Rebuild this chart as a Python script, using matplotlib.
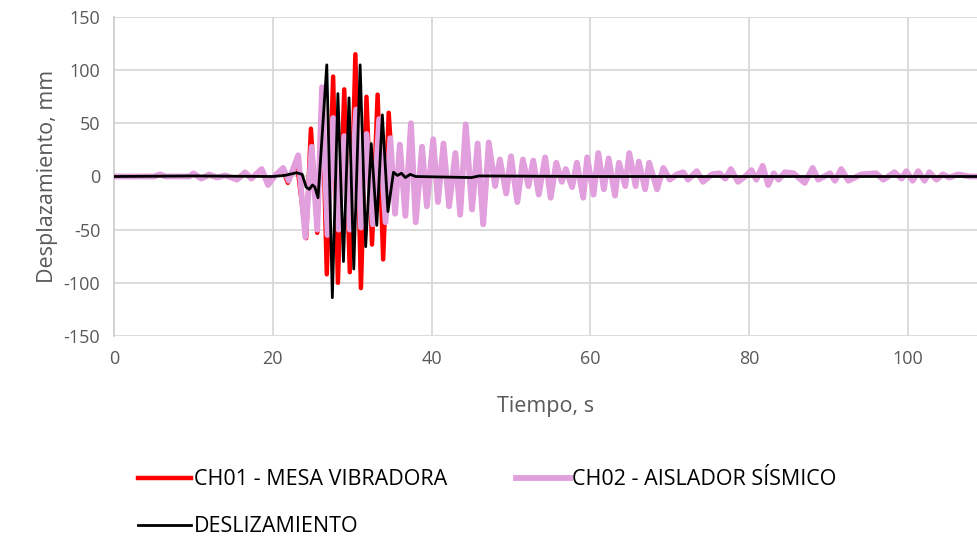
import matplotlib.pyplot as plt

# extrema (time in s, displacement in mm)
# shared tail (after ~35 s) where CH01 and CH02 overlap
tail_t = [35.4, 36.0, 36.7, 37.4, 38.0, 38.8, 39.4, 40.2, 40.8, 41.5, 42.2, 43.0, 43.6,
          44.3, 45.1, 45.8, 46.5, 47.2, 48.0, 48.6, 49.4, 50.0, 50.8, 51.5, 52.2, 52.8,
          53.5, 54.3, 55.0, 55.7, 56.4, 56.9, 57.7, 58.3, 59.1, 59.6, 60.4, 61.0, 61.7,
          62.3, 63.1, 63.6, 64.4, 64.9, 65.7, 66.1, 66.9, 67.4, 68.4, 69.2, 70.0, 70.9,
          71.7, 72.3, 73.4, 74.2, 75.3, 76.3, 77.0, 77.7, 78.6, 79.5, 80.3, 80.9, 81.7,
          82.4, 83.1, 83.7, 84.5, 85.6, 87.0, 88.0, 88.7, 90.2, 90.8, 91.6, 92.5, 94.1,
          96.0, 96.9, 98.3, 99.2, 99.8, 100.6, 101.3, 102.1, 102.7, 103.6, 104.4, 105.2,
          106.3, 107.8, 110.0]
tail_y = [-35, 30, -37, 50, -43, 28, -28, 35, -24, 31, -28, 22, -36,
          49, -31, 31, -45, 32, -9, 16, -16, 19, -24, 16, -9, 15,
          -17, 18, -20, 13, -5, 7, -10, 13, -20, 18, -17, 22, -12,
          17, -18, 13, -9, 22, -9, 14, -12, 13, -12, 8, -3, 2,
          4, -3, 5, -5, 2, 3, -2, 7, -5, 0, 6, -3, 10,
          -8, 3, -3, 4, 3, -6, 8, -3, 3, -4, 7, -4, 2,
          3, -3, 4, -2, 5, -4, 5, -4, 4, -3, 2, -1,
          2, 0, 0]

ch01_t = [0, 5.0, 5.8, 6.5, 9.5, 10.0, 11.0, 12.0, 13.0, 14.0, 14.8, 15.5, 16.5,
          17.3, 18.6, 19.4, 20.3, 21.2, 21.9, 23.0, 24.2,
          24.8, 25.6, 26.2, 26.8, 27.6, 28.2, 29.0, 29.7, 30.4, 31.1, 31.8, 32.5,
          33.2, 33.9, 34.6] + tail_t
ch01_y = [0, 0, 1, 0, 0, 2, -2, 1, -1, 1, -1, -3, 3,
          -2, 6, -6, 1, 7, -6, 15, -58,
          45, -53, 84, -92, 94, -100, 82, -90, 115, -105, 75, -64,
          77, -78, 60] + tail_y

ch02_t = [0, 5.0, 5.8, 6.5, 9.5, 10.0, 11.0, 12.0, 13.0, 14.0, 14.8, 15.5, 16.5,
          17.3, 18.6, 19.4, 20.3, 21.3, 22.0, 23.2, 24.1,
          24.9, 25.6, 26.2, 26.9, 27.6, 28.3, 29.0, 29.7, 30.5, 31.1, 31.8, 32.6,
          33.4, 34.2, 34.8] + tail_t
ch02_y = [0, 0, 2, 0, 0, 3, -2, 2, -1, 1, -1, -3, 4,
          -2, 7, -8, 1, 8, -4, 20, -57,
          28, -50, 84, -55, 55, -50, 38, -50, 63, -48, 40, -45,
          54, -43, 36] + tail_y

desl_t = [0, 10, 20, 21.5, 23.0, 23.7, 24.2, 24.6, 25.0, 25.3, 25.7, 26.8, 27.5,
          28.2, 28.9, 29.6, 30.2, 31.0, 31.7, 32.4, 33.1, 33.8, 34.5, 35.2, 35.7,
          36.2, 36.7, 37.3, 38.0, 45.0, 46.0, 60.0, 80.0, 110.0]
desl_y = [0, 0.5, 0, 1, 3.5, 2, -10, -12, -8, -10, -20, 105, -114,
          78, -80, 74, -87, 105, -66, 31, -46, 58, -33, 4, 1,
          3, -1, 2, 0, -1, 0.5, 0, 0, 0]

x_ticks = [0, 20, 40, 60, 80, 100]
y_ticks = [-150, -100, -50, 0, 50, 100, 150]

plt.rcParams['font.family'] = ['Open Sans', 'DejaVu Sans']
plt.rcParams['axes.unicode_minus'] = False

fig = plt.figure(figsize=(9.77, 5.4), dpi=100)
ax = fig.add_axes([0.1167, 0.3778, 0.8833, 0.5907])

l1, = ax.plot(ch01_t, ch01_y, color='#ff0000', lw=3.2, label='CH01 - MESA VIBRADORA',
              solid_joinstyle='round', zorder=3)
l2, = ax.plot(ch02_t, ch02_y, color='#e29fdd', lw=4.2, label='CH02 - AISLADOR SÍSMICO',
              solid_joinstyle='round', zorder=4)
l3, = ax.plot(desl_t, desl_y, color='black', lw=2.0, label='DESLIZAMIENTO',
              solid_joinstyle='round', zorder=5)

ax.set_xlim(0, 108.7)
ax.set_ylim(-150, 150)
ax.set_xticks(x_ticks)
ax.set_yticks(y_ticks)
ax.grid(True, color='#d9d9d9', lw=1.3)
ax.set_axisbelow(True)
for s in ['top', 'right', 'bottom']:
    ax.spines[s].set_visible(False)
ax.spines['left'].set_color('#d0d0d0')
ax.spines['left'].set_linewidth(1.3)
ax.tick_params(length=0, labelsize=13, colors='#595959', pad=10)
ax.set_xlabel('Tiempo, s', fontsize=15.5, color='#595959', labelpad=20)
ax.set_ylabel('Desplazamiento, mm', fontsize=15.5, color='#595959', labelpad=4)

fig.legend([l1, l3, l2], [l1.get_label(), l3.get_label(), l2.get_label()],
           ncol=2, loc='upper left', bbox_to_anchor=(0.132, 0.147),
           frameon=False, fontsize=15.5, handlelength=2.5, handletextpad=0.1,
           columnspacing=3.2, labelspacing=1.2, borderaxespad=0)

fig.savefig('out.png', dpi=100)
